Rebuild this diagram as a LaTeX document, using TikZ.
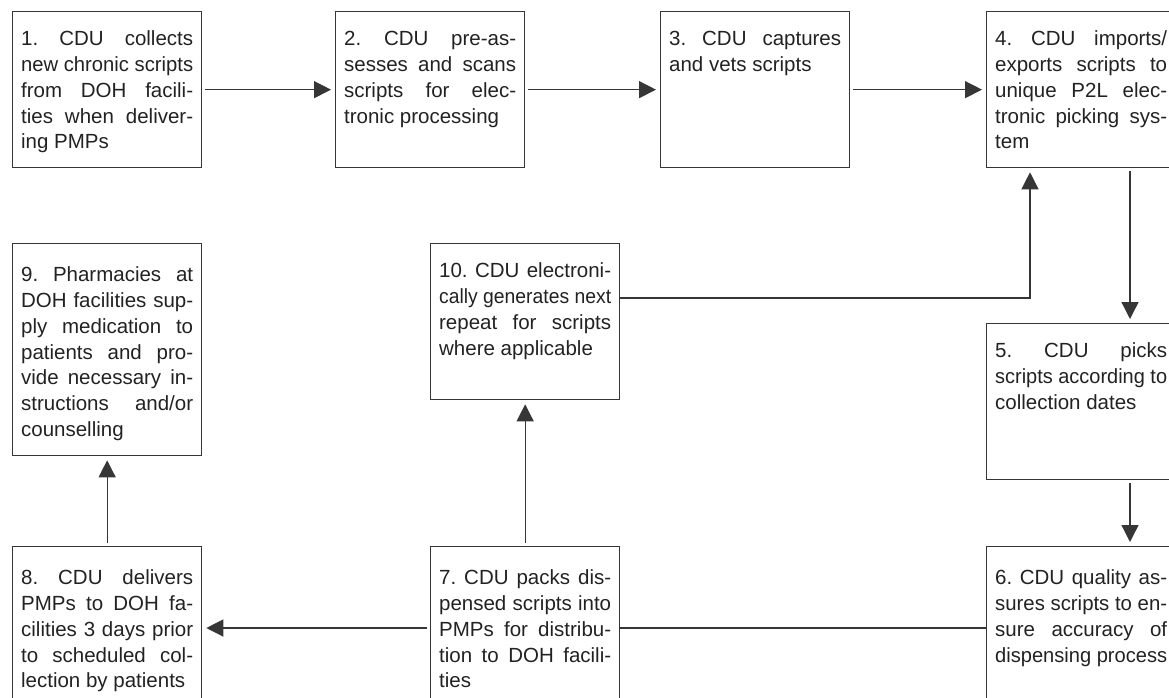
\documentclass[tikz,border=0pt]{standalone}
\usepackage{fontspec}
\setmainfont{Liberation Sans}
\usetikzlibrary{arrows.meta}
\definecolor{ink}{HTML}{222222}
\definecolor{edge}{HTML}{363636}
% one justified line (squeezed when too long), and one ragged last line
\newcommand\jline[1]{\sbox0{#1}%
  \ifdim\wd0>\linewidth\resizebox{\linewidth}{\height}{#1}%
  \else\makebox[\linewidth][s]{#1}\fi\par}
\newcommand\lline[1]{\sbox0{#1}%
  \ifdim\wd0>\linewidth\resizebox{\linewidth}{\height}{#1}%
  \else#1\fi\par}
% box body: total height, first-baseline offset, lines
\newcommand\steptext[3]{\parbox[t][#1][t]{172pt}{\fontsize{20.5pt}{25.8pt}\selectfont
  \frenchspacing\rule{0pt}{#2}#3}}
\begin{document}
\begin{tikzpicture}[x=1pt,y=-1pt,
  stepbox/.style={draw=edge, line width=1.3pt, rectangle, anchor=north west,
    inner xsep=8.5pt, inner ysep=0pt, text=ink},
  arr/.style={draw=edge, line width=1.3pt, -{Triangle[length=17pt,width=17pt]},
    shorten >=4pt, shorten <=3pt},
  link/.style={draw=edge, line width=1.3pt}]
\useasboundingbox (0,0) rectangle (1169,697);
\clip (0,0) rectangle (1169,697);

% top row
\node[stepbox] (b1) at (12,11) {\steptext{156pt}{34pt}{%
  \jline{1. CDU collects}\jline{new chronic scripts}\jline{from DOH facili-}%
  \jline{ties when deliver-}\lline{ing PMPs}}};
\node[stepbox] (b2) at (335,11) {\steptext{156pt}{34pt}{%
  \jline{2. CDU pre-as-}\jline{sesses and scans}\jline{scripts for elec-}%
  \lline{tronic processing}}};
\node[stepbox] (b3) at (660,11) {\steptext{156pt}{34pt}{%
  \jline{3. CDU captures}\lline{and vets scripts}}};
\node[stepbox] (b4) at (986,11) {\steptext{156pt}{34pt}{%
  \jline{4. CDU imports/}\jline{exports scripts to}\jline{unique P2L elec-}%
  \jline{tronic picking sys-}\lline{tem}}};

% middle row
\node[stepbox] (b9) at (12,243) {\steptext{212pt}{38pt}{%
  \jline{9. Pharmacies at}\jline{DOH facilities sup-}\jline{ply medication to}%
  \jline{patients and pro-}\jline{vide necessary in-}\jline{structions and/or}%
  \lline{counselling}}};
\node[stepbox] (b10) at (430,243) {\steptext{156pt}{34pt}{%
  \jline{10. CDU electroni-}\jline{cally generates next}\jline{repeat for scripts}%
  \lline{where applicable}}};
\node[stepbox] (b5) at (986,323) {\steptext{156pt}{34pt}{%
  \jline{5. CDU picks}\jline{scripts according to}\lline{collection dates}}};

% bottom row
\node[stepbox] (b8) at (12,546) {\steptext{160pt}{38pt}{%
  \jline{8. CDU delivers}\jline{PMPs to DOH fa-}\jline{cilities 3 days prior}%
  \jline{to scheduled col-}\lline{lection by patients}}};
\node[stepbox] (b7) at (430,546) {\steptext{160pt}{38pt}{%
  \jline{7. CDU packs dis-}\jline{pensed scripts into}\jline{PMPs for distribu-}%
  \jline{tion to DOH facili-}\lline{ties}}};
\node[stepbox] (b6) at (986,546) {\steptext{160pt}{38pt}{%
  \jline{6. CDU quality as-}\jline{sures scripts to en-}\jline{sure accuracy of}%
  \lline{dispensing process}}};

% connectors
\draw[arr] (b1.east) -- (b2.west);
\draw[arr] (b2.east) -- (b3.west);
\draw[arr] (b3.east) -- (b4.west);
\draw[arr] ([xshift=144pt]b4.south west) -- ([xshift=144pt]b5.north west);
\draw[arr] ([xshift=144pt]b5.south west) -- ([xshift=144pt]b6.north west);
\draw[link] ([yshift=-82pt]b6.north west) -- ([yshift=-82pt]b7.north east);
\draw[arr] ([yshift=-82pt]b7.north west) -- ([yshift=-82pt]b8.north east);
\draw[arr] (b8.north) -- (b9.south);
\draw[arr] (b7.north) -- (b10.south);
\draw[arr, shorten <=0pt] ([yshift=-55pt]b10.north east) -| ([xshift=44pt]b4.south west);
\end{tikzpicture}
\end{document}
